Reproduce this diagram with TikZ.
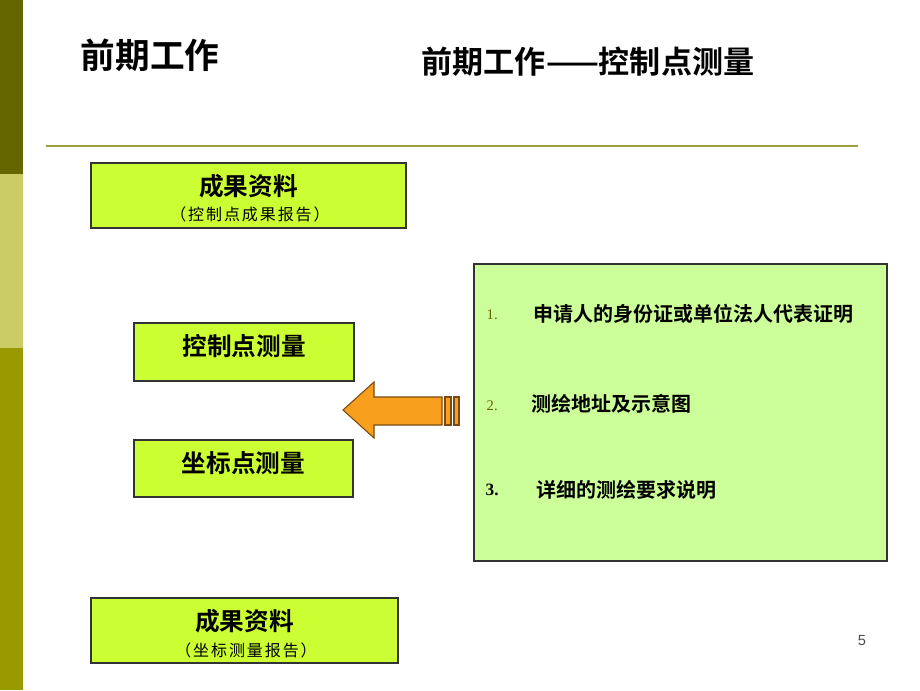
\documentclass[tikz,border=0pt]{standalone}
\usepackage{fontspec}
\setmainfont{Liberation Serif}
\newfontfamily\pgsans{Liberation Sans}
\newfontfamily\cjk{Noto Sans CJK SC}
\newfontfamily\cjkb{Noto Sans CJK SC Bold}
\newfontfamily\cjksp[LetterSpace=12]{Noto Sans CJK SC}
\definecolor{bardark}{HTML}{666600}
\definecolor{barlight}{HTML}{CCCC66}
\definecolor{barolive}{HTML}{999900}
\definecolor{lineol}{HTML}{A0A040}
\definecolor{boxfill}{HTML}{CCFF33}
\definecolor{listfill}{HTML}{CCFF99}
\definecolor{arrowfill}{HTML}{F8A01E}
\definecolor{arrowline}{HTML}{7A4A10}
\definecolor{numol}{HTML}{666600}
\tikzset{
  ybox/.style={draw=black!80, line width=0.8pt, fill=boxfill},
  boxtitle/.style={font=\cjkb\fontsize{18.5pt}{20pt}\selectfont},
  boxsub/.style={font=\cjksp\fontsize{12pt}{14pt}\selectfont},
  itemtxt/.style={font=\cjkb\fontsize{15pt}{18pt}\selectfont, anchor=west},
}
\begin{document}
\begin{tikzpicture}[x=0.75pt,y=-0.75pt]
\useasboundingbox (0,0) rectangle (920,690);
\fill[white] (0,0) rectangle (920,690);
% left bar
\fill[bardark] (0,0) rectangle (23,174);
\fill[barlight] (0,174) rectangle (23,348);
\fill[barolive] (0,348) rectangle (23,690);
% titles
\node[anchor=west, font=\cjkb\fontsize{26pt}{28pt}\selectfont] (t1) at (76,55) {前期工作};
\node[font=\cjkb\fontsize{23.3pt}{25pt}\selectfont] (t2) at (588,62) {前期工作——控制点测量};
% rule
\coordinate (r1) at (46,146);
\coordinate (r2) at (858,146);
\draw[lineol, line width=1.2pt] (r1) -- (r2);
% boxes
\draw[ybox] (91,163) rectangle (406,228);
\node[boxtitle] (a1) at (248.5,186) {成果资料};
\node[boxsub] (a2) at (250,214) {（控制点成果报告）};
\draw[ybox] (134,323) rectangle (354,381);
\node[boxtitle] (b1) at (244,346) {控制点测量};
\draw[ybox] (134,440) rectangle (353,497);
\node[boxtitle] (c1) at (243.5,463) {坐标点测量};
\draw[ybox] (91,598) rectangle (398,663);
\node[boxtitle] (d1) at (244.5,621) {成果资料};
\node[boxsub] (d2) at (246,650) {（坐标测量报告）};
% list box
\draw[draw=black!80, line width=0.8pt, fill=listfill] (474,264) rectangle (887,561);
\node[anchor=west, text=numol, font=\fontsize{11pt}{12pt}\selectfont] (n1) at (482,315) {1.};
\node[itemtxt] (i1) at (529,314) {申请人的身份证或单位法人代表证明};
\node[anchor=west, text=numol, font=\fontsize{11pt}{12pt}\selectfont] (n2) at (482,406) {2.};
\node[itemtxt] (i2) at (527,404) {测绘地址及示意图};
\node[anchor=west, font=\bfseries\fontsize{13pt}{15pt}\selectfont] (n3) at (481,490) {3.};
\node[itemtxt] (i3) at (532,490) {详细的测绘要求说明};
% arrow
\draw[arrowline, fill=arrowfill, line width=0.8pt, line join=miter]
  (343,410) -- (374,382) -- (374,397) -- (442,397) -- (442,425) -- (374,425) -- (374,438) -- cycle;
\draw[arrowline, fill=arrowfill, line width=0.8pt] (445,397) rectangle (451,425);
\draw[arrowline, fill=arrowfill, line width=0.8pt] (454,397) rectangle (459,425);
% page number
\node[text=black!70, font=\pgsans\fontsize{11pt}{12pt}\selectfont] (pg) at (862,641) {5};
\end{tikzpicture}
\end{document}
